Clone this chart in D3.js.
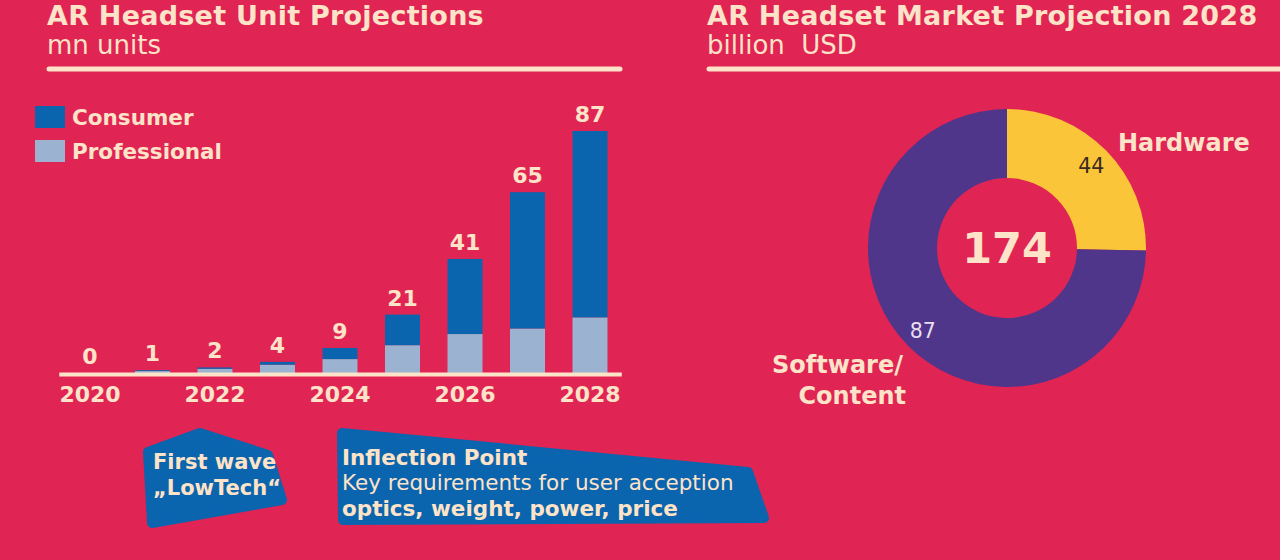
<!DOCTYPE html>
<html lang="en">
<head>
    <meta charset="UTF-8">
    <script src="https://d3js.org/d3.v7.min.js"></script>
    <title>AR Headsets</title>
    <style>
        body { margin: 0; background: #E02454; }
        svg { display: block; font-family: "DejaVu Sans", Verdana, sans-serif; }
    </style>
</head>
<body>
    <svg width="1280" height="560" id="chart"></svg>
    <script>
        // data
        var years = [2020, 2021, 2022, 2023, 2024, 2025, 2026, 2027, 2028];
        var consumer = [0, 0.3, 0.5, 1, 4, 11, 27, 49, 67];
        var professional = [0, 0.7, 1.5, 3, 5, 10, 14, 16, 20];
        var totalLabels = ["0", "1", "2", "4", "9", "21", "41", "65", "87"];
        var yearTicks = [2020, 2022, 2024, 2026, 2028];

        var segments = ["Hardware", "Software/Content"];
        var segmentArcs = [44, 130];      // arc sizes as drawn (quarter / three quarters of 174)
        var segmentLabels = ["44", "87"];
        var marketTotal = "174";

        var cream = "#FDE3C8";
        var blue = "#0B64AE";
        var lightBlue = "#9BB2D1";

        let svg = d3.select("#chart");

        // ---------- headers ----------
        function header(x, title, sub, x2) {
            svg.append("text").attr("x", x).attr("y", 25)
                .attr("fill", cream).attr("font-weight", "bold").attr("font-size", 27)
                .attr("letter-spacing", 0.25)
                .text(title);
            svg.append("text").attr("x", x).attr("y", 54)
                .attr("fill", cream).attr("font-size", 26)
                .attr("xml:space", "preserve")
                .text(sub);
            svg.append("line")
                .attr("x1", x + 2).attr("x2", x2).attr("y1", 69).attr("y2", 69)
                .attr("stroke", cream).attr("stroke-width", 5).attr("stroke-linecap", "round");
        }
        header(47, "AR Headset Unit Projections", "mn units", 620);
        header(707, "AR Headset Market Projection 2028", "billion  USD", 1282);

        // ---------- stacked bars ----------
        let x = d3.scaleBand().domain(years).range([58.75, 621.25]).paddingInner(0.44).paddingOuter(0.22);
        let y = d3.scaleLinear().domain([0, 87]).range([373, 131]);

        let rows = years.map((yr, i) => ({ year: yr, professional: professional[i], consumer: consumer[i] }));
        let stack = d3.stack().keys(["professional", "consumer"])(rows);
        let colors = { professional: lightBlue, consumer: blue };

        svg.append("g").selectAll("g").data(stack).join("g")
            .attr("fill", d => colors[d.key])
            .selectAll("rect").data(d => d).join("rect")
            .attr("x", d => x(d.data.year))
            .attr("width", x.bandwidth())
            .attr("y", d => y(d[1]))
            .attr("height", d => y(d[0]) - y(d[1]));

        // totals above bars
        svg.append("g").selectAll("text").data(years).join("text")
            .attr("x", d => x(d) + x.bandwidth() / 2)
            .attr("y", (d, i) => y(consumer[i] + professional[i]) - 9)
            .attr("text-anchor", "middle")
            .attr("fill", cream).attr("font-weight", "bold").attr("font-size", 22)
            .text((d, i) => totalLabels[i]);

        // axis
        let axis = svg.append("g").attr("transform", "translate(0,374)")
            .call(d3.axisBottom(x).tickValues(yearTicks).tickSize(0).tickPadding(12));
        axis.select(".domain").attr("stroke", cream).attr("stroke-width", 4);
        axis.selectAll("text").attr("fill", cream).attr("font-weight", "bold")
            .attr("font-size", 22).attr("font-family", "DejaVu Sans");

        // legend
        let legend = svg.append("g").selectAll("g").data(["consumer", "professional"]).join("g")
            .attr("transform", (d, i) => "translate(35," + (106 + i * 34) + ")");
        legend.append("rect").attr("width", 30).attr("height", 22).attr("fill", d => colors[d]);
        legend.append("text").attr("x", 37).attr("y", 19)
            .attr("fill", cream).attr("font-weight", "bold").attr("font-size", 21.5)
            .text(d => d == "consumer" ? "Consumer" : "Professional");

        // ---------- donut ----------
        let cx = 1007, cy = 248;
        let pie = d3.pie().sort(null).value(d => d)(segmentArcs);
        let arc = d3.arc().innerRadius(70).outerRadius(139);
        let labelArc = d3.arc().innerRadius(118).outerRadius(118);
        let donut = svg.append("g").attr("transform", "translate(" + cx + "," + cy + ")");

        donut.selectAll("path").data(pie).join("path")
            .attr("d", arc)
            .attr("fill", (d, i) => i == 0 ? "#FAC538" : "#4F368B");

        donut.selectAll(".val").data(pie).join("text")
            .attr("class", "val")
            .attr("transform", d => "translate(" + labelArc.centroid(d) + ")")
            .attr("text-anchor", "middle").attr("dy", "0.36em")
            .attr("font-size", 20.5)
            .attr("fill", (d, i) => i == 0 ? "#3B2A22" : "#E9DDF0")
            .text((d, i) => segmentLabels[i]);

        donut.append("text").attr("y", 15).attr("text-anchor", "middle")
            .attr("fill", cream).attr("font-weight", "bold").attr("font-size", 43)
            .text(marketTotal);

        // segment names
        svg.append("text").attr("x", 1118).attr("y", 151)
            .attr("fill", cream).attr("font-weight", "bold").attr("font-size", 24)
            .text(segments[0]);
        let sw = svg.append("text").attr("text-anchor", "end")
            .attr("fill", cream).attr("font-weight", "bold").attr("font-size", 24);
        sw.append("tspan").attr("x", 903).attr("y", 373).text("Software/");
        sw.append("tspan").attr("x", 906).attr("y", 404).text("Content");

        // ---------- callouts ----------
        let shape = d3.line().curve(d3.curveLinearClosed);
        svg.append("path")
            .attr("d", shape([[148, 452], [200, 433], [268, 455], [282, 500], [152, 523]]))
            .attr("fill", blue).attr("stroke", blue).attr("stroke-width", 10).attr("stroke-linejoin", "round");
        svg.append("path")
            .attr("d", shape([[342, 433], [748, 472], [764, 518], [343, 520]]))
            .attr("fill", blue).attr("stroke", blue).attr("stroke-width", 10).attr("stroke-linejoin", "round");

        let fw = svg.append("text").attr("fill", cream).attr("font-weight", "bold").attr("font-size", 21);
        fw.append("tspan").attr("x", 153).attr("y", 469).text("First wave");
        fw.append("tspan").attr("x", 153).attr("y", 495).text("\u201ELowTech\u201C");

        svg.append("text").attr("x", 342).attr("y", 465)
            .attr("fill", cream).attr("font-weight", "bold").attr("font-size", 21.5)
            .text("Inflection Point");
        svg.append("text").attr("x", 342).attr("y", 490)
            .attr("fill", cream).attr("font-size", 21.5)
            .text("Key requirements for user acception");
        svg.append("text").attr("x", 342).attr("y", 516)
            .attr("fill", cream).attr("font-weight", "bold").attr("font-size", 21.5)
            .text("optics, weight, power, price");
    </script>
</body>
</html>
